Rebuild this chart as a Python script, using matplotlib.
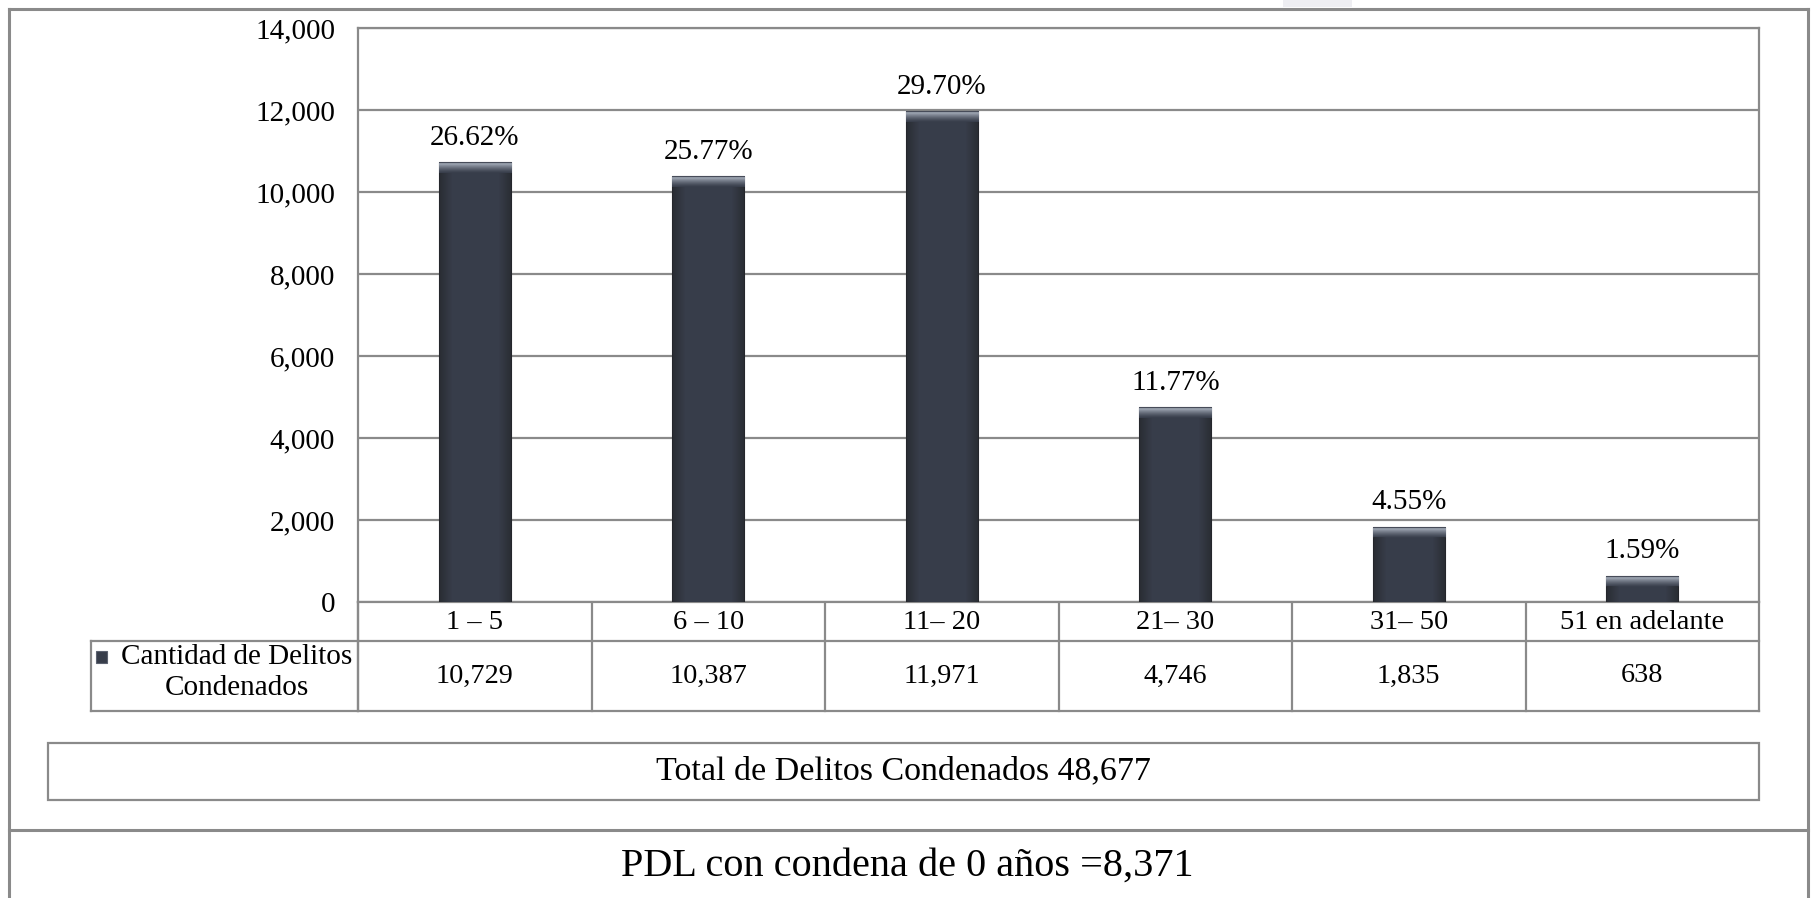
import numpy as np
import matplotlib
matplotlib.use("Agg")
import matplotlib.pyplot as plt
import matplotlib.transforms as mtransforms
from matplotlib.ticker import FuncFormatter

# ---------------- data ----------------
categories = ["1 – 5", "6 – 10", "11– 20", "21– 30", "31– 50", "51 en adelante"]
values = [10729, 10387, 11971, 4746, 1835, 638]
pct_labels = ["26.62%", "25.77%", "29.70%", "11.77%", "4.55%", "1.59%"]
series_name = ["Cantidad de Delitos", "Condenados"]
total_text = "Total de Delitos Condenados 48,677"
footer_text = "PDL con condena de 0 años =8,371"
y_ticks = [0, 2000, 4000, 6000, 8000, 10000, 12000, 14000]

# ---------------- style ----------------
FONT = "Liberation Serif"
W, H = 1812, 898
BAR = "#373d4a"
LINE = "#8a8a8a"
TXT = "#000000"
plt.rcParams["font.family"] = [FONT, "DejaVu Serif"]

fig = plt.figure(figsize=(W / 100, H / 100), dpi=100)
fig.patch.set_facecolor("white")

# overlay in pixel coordinates (origin top-left)
ov = fig.add_axes([0, 0, 1, 1], zorder=0)
ov.set_xlim(0, W)
ov.set_ylim(H, 0)
ov.axis("off")

# plot area
pl, pr, pt, pb = 358, 1759, 28, 602
ax = fig.add_axes([pl / W, 1 - pb / H, (pr - pl) / W, (pb - pt) / H], zorder=2)
ax.set_xlim(-0.5, len(categories) - 0.5)
ax.set_ylim(0, 14000)
ax.set_yticks(y_ticks)
ax.yaxis.set_major_formatter(FuncFormatter(lambda v, p: f"{int(v):,}"))
ax.tick_params(axis="y", length=0, pad=16.5, labelsize=21, colors=TXT)
ax.tick_params(axis="x", length=0, labelbottom=False)
ax.set_xticks([])
ax.grid(axis="y", color=LINE, lw=1.6)
ax.set_axisbelow(True)
for s in ax.spines.values():
    s.set_color(LINE)
    s.set_linewidth(1.6)

x = np.arange(len(categories))
bw = 0.31
bars = ax.bar(x, values, width=bw, color=BAR, edgecolor="#2a2f39", linewidth=0.8, zorder=3)

# bevel highlight at the top of each bar
px_per_unit = (pb - pt) / 14000.0
band = 11 / px_per_unit
t = np.linspace(0, 1, 40)
grad = np.zeros((40, 1, 4))
base = np.array([0x37, 0x3d, 0x4a]) / 255.0
light = np.array([0.66, 0.69, 0.74])
for i, tt in enumerate(t):
    if tt < 0.1:
        c = np.array([0.25, 0.27, 0.32])
    else:
        k = (tt - 0.1) / 0.9
        c = light * (1 - k) ** 1.3 + base * (1 - (1 - k) ** 1.3)
    grad[i, 0, :3] = c
    grad[i, 0, 3] = 1.0
hgrad = np.ones((1, 30, 4))
hgrad[..., :3] = 0.12
hgrad[..., 3] = np.concatenate([np.linspace(0.5, 0, 6), np.zeros(18), np.linspace(0, 0.5, 6)])
for b in bars:
    x0, w, h = b.get_x(), b.get_width(), b.get_height()
    ax.imshow(grad, extent=[x0, x0 + w, h - band, h], aspect="auto", zorder=4, interpolation="bilinear")
    ax.imshow(hgrad, extent=[x0, x0 + w, 0, h - band], aspect="auto", zorder=4, interpolation="bilinear")
ax.set_xlim(-0.5, len(categories) - 0.5)
ax.set_ylim(0, 14000)

for xi, v, lab in zip(x, values, pct_labels):
    ax.annotate(lab, (xi, v), xytext=(0, 12.5), textcoords="offset points",
                ha="center", va="baseline", fontsize=21, color=TXT, zorder=5)

# ---------------- data table ----------------
tr = mtransforms.blended_transform_factory(ax.transData, ov.transData)
r0, r1, r2 = pb, 641, 711
leg_l = 91
lk = dict(color=LINE, lw=1.6, zorder=1)
ov.plot([pl, pr], [r1, r1], **lk)
ov.plot([leg_l, leg_l], [r1, r2], **lk)
ov.plot([leg_l, pl], [r1, r1], **lk)
ov.plot([leg_l, pr], [r2, r2], **lk)
ov.plot([pl, pl], [r0, r2], **lk)
for xb in np.arange(len(categories) + 1) - 0.5:
    ov.plot([xb, xb], [r0, r2], transform=tr, **lk)

for xi, c, v in zip(x, categories, values):
    ov.text(xi, (r0 + r1) / 2 + 1, c, transform=tr, ha="center", va="center",
            fontsize=20.5, color=TXT)
    ov.text(xi, (r1 + r2) / 2, f"{v:,}", transform=tr, ha="center", va="center",
            fontsize=20.3, color=TXT)

# legend cell
ov.text(237, 657, series_name[0], ha="center", va="center", fontsize=21, color=TXT)
ov.text(237, 688, series_name[1], ha="center", va="center", fontsize=21, color=TXT)
ov.add_patch(plt.Rectangle((96, 651), 11, 12, facecolor=BAR, edgecolor="#5c6270", lw=0.8))

# total box
ov.add_patch(plt.Rectangle((48, 743), 1759 - 48, 800 - 743, facecolor="none", edgecolor=LINE, lw=1.6))
ov.text((48 + 1759) / 2, 771.5, total_text, ha="center", va="center", fontsize=24.5, color=TXT)

# outer frame and separator
fk = dict(color=LINE, lw=2.2, zorder=1)
ov.plot([9, 1808], [9, 9], **fk)
ov.plot([9, 9], [9, H], **fk)
ov.plot([1808, 1808], [9, H], **fk)
ov.plot([9, 1808], [830, 830], **fk)
ov.add_patch(plt.Rectangle((1283, 0), 69, 7, facecolor="#eeeef2", edgecolor="none"))

ov.text(907, 866, footer_text, ha="center", va="center", fontsize=29, color=TXT)

fig.savefig("out.png", dpi=100, facecolor="white")
